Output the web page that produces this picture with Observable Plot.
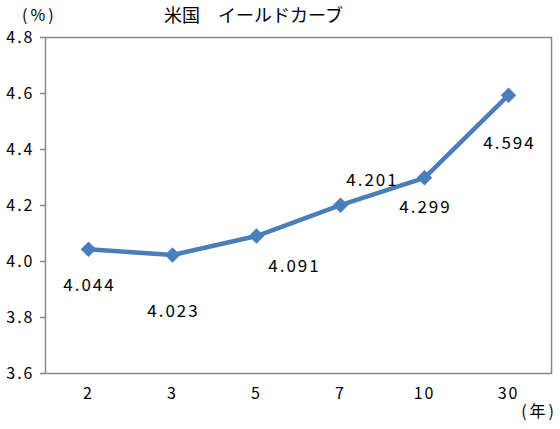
<!DOCTYPE html>
<html><head><meta charset="utf-8">
<script src="https://cdn.jsdelivr.net/npm/d3@7"></script>
<script src="https://cdn.jsdelivr.net/npm/@observablehq/plot@0.6"></script>
<style>
body{margin:0;background:#fff}
#wrap{position:relative;width:560px;height:429px;font-family:"Noto Sans CJK JP",sans-serif}
.t{position:absolute;color:#000;white-space:nowrap;line-height:1}
svg text{letter-spacing:2px}
</style></head>
<body><div id="wrap"></div>
<script>
const maturities = ["2", "3", "5", "7", "10", "30"];
const yields = [4.044, 4.023, 4.091, 4.201, 4.299, 4.594];
const yTicks = [3.6, 3.8, 4.0, 4.2, 4.4, 4.6, 4.8];
const titleText = "米国　イールドカーブ";
const yUnit = "(%)";
const xUnit = "(年)";
// label placement (layout only)
const labelDx = [1, 1, 38, 32, 1, 1];
const labelDy = [36, 56, 31, -25, 30, 48];

const data = maturities.map((m, i) => ({m, v: yields[i], i}));
const color = "#4a7ebb";

const labelMarks = data.map(d => Plot.text([d], {
  x: "m", y: "v", text: d => d.v.toFixed(3),
  dx: labelDx[d.i], dy: labelDy[d.i],
  fontSize: 17, fill: "#000", letterSpacing: 3
}));

const chart = Plot.plot({
  width: 560, height: 429,
  marginLeft: 45, marginRight: 9, marginTop: 37, marginBottom: 56,
  style: {fontFamily: '"Noto Sans CJK JP", sans-serif', background: "#fff", color: "#000"},
  x: {type: "band", domain: maturities, padding: 0, label: null},
  y: {domain: [3.6, 4.8], label: null},
  marks: [
    Plot.axisY({ticks: yTicks, tickFormat: d3.format(".1f"), tickSize: 5, tickPadding: 6,
      fontSize: 16, stroke: "#888", strokeWidth: 1.5, label: null}),
    Plot.axisX({tickSize: 0, tickPadding: 14, fontSize: 16, label: null}),
    Plot.frame({stroke: "#888", strokeWidth: 1.5}),
    Plot.line(data, {x: "m", y: "v", stroke: color, strokeWidth: 4.5}),
    Plot.dot(data, {x: "m", y: "v", symbol: "diamond2", r: 7, fill: color, stroke: "none"}),
    ...labelMarks
  ]
});

const wrap = document.getElementById("wrap");
wrap.appendChild(chart);
function addText(txt, style) {
  const d = document.createElement("div");
  d.className = "t"; d.textContent = txt;
  Object.assign(d.style, style);
  wrap.appendChild(d);
}
addText(yUnit, {left: "22px", top: "6px", fontSize: "16px", letterSpacing: "3px"});
addText(titleText, {left: "164px", top: "5px", fontSize: "18px"});
addText(xUnit, {right: "3px", top: "402px", fontSize: "16px", letterSpacing: "3px"});
</script>
</body></html>
